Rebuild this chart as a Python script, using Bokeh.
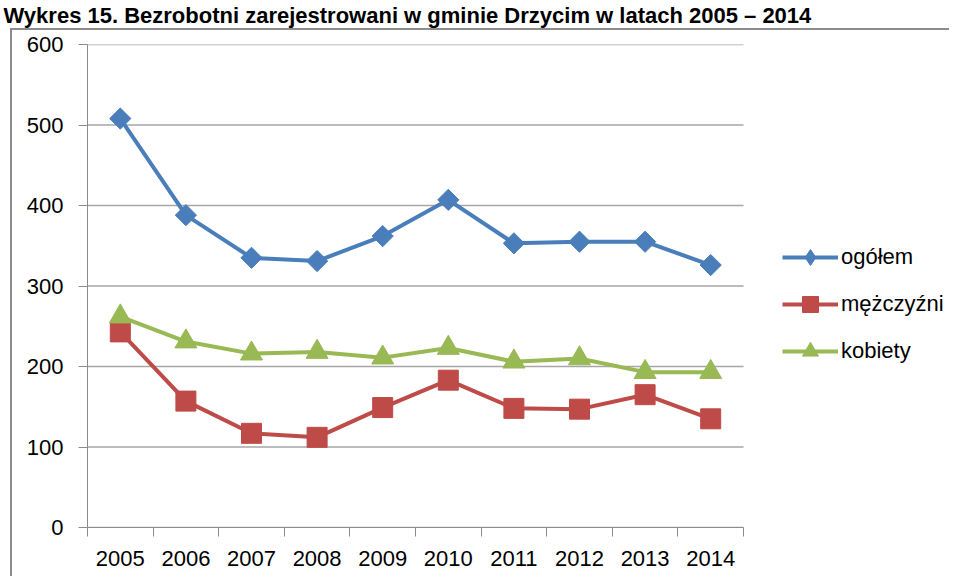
import math
from bokeh.plotting import figure
from bokeh.models import FixedTicker, Legend, LegendItem, Title, Range1d
from bokeh.embed import file_html
from bokeh.resources import INLINE

years = [2005, 2006, 2007, 2008, 2009, 2010, 2011, 2012, 2013, 2014]
ogolem = [508, 388, 335, 331, 362, 407, 353, 355, 355, 326]
mezczyzni = [243, 157, 117, 112, 149, 183, 148, 147, 165, 135]
kobiety = [262, 231, 216, 218, 211, 223, 206, 210, 193, 193]
series_names = ["ogółem", "mężczyźni", "kobiety"]
y_ticks = [0, 100, 200, 300, 400, 500, 600]
title_text = "Wykres 15. Bezrobotni zarejestrowani w gminie Drzycim w latach 2005 – 2014"

BLUE = "#4A7EBB"
RED = "#BE4B48"
GREEN = "#98B954"
GRID = "#A6A6A6"
AXIS = "#8C8C8C"
FONT = "Liberation Sans"

W, H = 949, 576
LEFT, TOP, BOTTOM = 87, 44, 49
PLOT_W = 656                      # width of the gridded plot area in px
x_lo = years[0] - 0.5
x_hi = years[-1] + 0.5
x_end = x_lo + (x_hi - x_lo) * (W - LEFT) / PLOT_W   # frame extends under the legend

p = figure(width=W, height=H, output_backend="svg", toolbar_location=None,
           x_range=Range1d(x_lo, x_end),
           y_range=Range1d(y_ticks[0], y_ticks[-1]),
           min_border_left=LEFT, min_border_right=0, min_border_top=TOP,
           min_border_bottom=BOTTOM)
p.outline_line_color = None
p.background_fill_color = "white"
p.border_fill_color = None
# outer chart-area frame (left and top edges, as in the cropped source)
p.styles = {
    "background-color": "white",
    "background-image": "linear-gradient(#8C8C8C, #8C8C8C), linear-gradient(#8C8C8C, #8C8C8C)",
    "background-size": "2px 100%, 100% 2px",
    "background-position": "10px 28px, 10px 28px",
    "background-repeat": "no-repeat",
}

# horizontal grid lines limited to the plot area
p.xgrid.visible = False
p.ygrid.visible = False
p.segment(x0=[x_lo] * len(y_ticks), y0=y_ticks, x1=[x_hi] * len(y_ticks), y1=y_ticks,
          line_color=GRID, line_width=1.5)

# axes
p.xaxis.bounds = (x_lo, x_hi)
p.xaxis.ticker = FixedTicker(ticks=years,
                             minor_ticks=[x_lo + i for i in range(len(years) + 1)])
p.xaxis.major_tick_out = 0
p.xaxis.major_tick_in = 0
p.xaxis.minor_tick_out = 9
p.xaxis.minor_tick_in = 0
p.xaxis.minor_tick_line_color = AXIS
p.xaxis.axis_line_color = AXIS
p.xaxis.major_label_standoff = 14
p.xaxis.major_label_text_font = FONT
p.xaxis.major_label_text_font_size = "22px"
p.xaxis.major_label_text_color = "black"

p.yaxis.ticker = FixedTicker(ticks=y_ticks)
p.yaxis.major_tick_out = 9
p.yaxis.major_tick_in = 0
p.yaxis.minor_tick_line_color = None
p.yaxis.major_tick_line_color = AXIS
p.yaxis.axis_line_color = AXIS
p.yaxis.major_label_standoff = 15
p.yaxis.major_label_text_font = FONT
p.yaxis.major_label_text_font_size = "22px"
p.yaxis.major_label_text_color = "black"

items = []
for name, vals, col, marker, size, ang, leg_marker in [
        (series_names[0], ogolem, BLUE, "square", 15, math.pi / 4, "diamond"),
        (series_names[1], mezczyzni, RED, "square", 20, 0, "square"),
        (series_names[2], kobiety, GREEN, "triangle", 22, 0, "triangle")]:
    ln = p.line(years, vals, line_color=col, line_width=4, line_join="round")
    sc = p.scatter(years, vals, marker=marker, size=size, angle=ang,
                   fill_color=col, line_color=col)
    # legend-only marker (legend glyphs are drawn unrotated)
    lg = p.scatter(years, vals, marker=leg_marker, size=size,
                   fill_color=col, line_color=col, visible=False)
    items.append(LegendItem(label=name, renderers=[ln, lg]))

legend = Legend(items=items, location=(695, 156), orientation="vertical",
                glyph_width=56, glyph_height=40, label_height=40, spacing=7,
                padding=0, margin=0, border_line_color=None,
                background_fill_alpha=0, label_standoff=3,
                label_text_font=FONT, label_text_font_size="22px",
                label_text_color="black")
p.add_layout(legend)

# spacer next to the frame, then the title at the very top
p.add_layout(Title(text=" ", standoff=2, text_font=FONT, text_font_size="10px"), "above")
p.add_layout(Title(text=title_text, align="left", offset=-84, standoff=0,
                   vertical_align="top",
                   text_font=FONT, text_font_style="bold", text_font_size="22px",
                   text_color="black"), "above")

open("out.html", "w").write(file_html(p, INLINE))
